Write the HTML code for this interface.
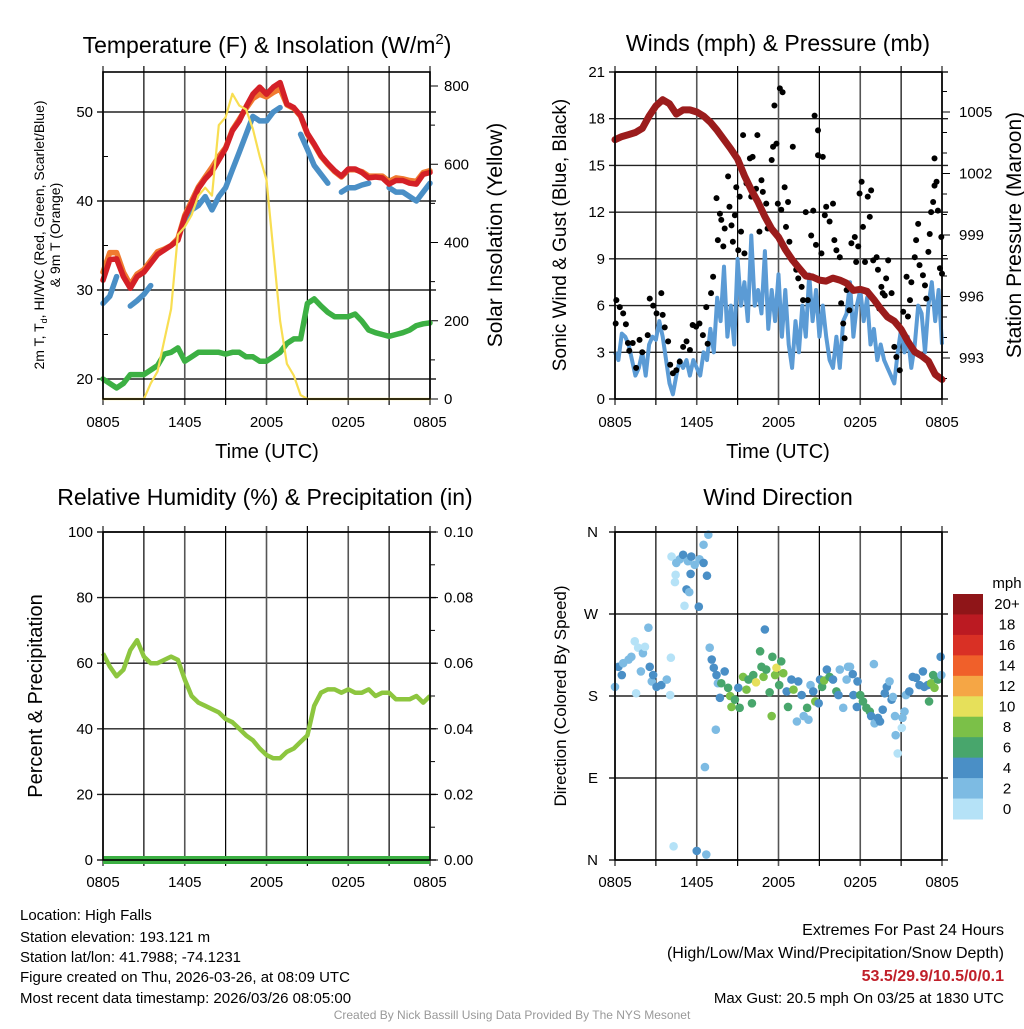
<!DOCTYPE html>
<html><head><meta charset="utf-8">
<style>
html,body{margin:0;padding:0;background:#fff;}
body{width:1024px;height:1024px;overflow:hidden;font-family:"Liberation Sans",Arial,sans-serif;}
svg text{font-family:"Liberation Sans",Arial,sans-serif;}
</style></head>
<body>
<svg id="c" width="1024" height="1024" viewBox="0 0 1024 1024" xmlns="http://www.w3.org/2000/svg">
<g id="texts">
<text x="267" y="53" font-size="23" text-anchor="middle">Temperature (F) &amp; Insolation (W/m<tspan dy="-9" font-size="15">2</tspan><tspan dy="9">)</tspan></text>
<text x="778" y="51" font-size="23" text-anchor="middle">Winds (mph) &amp; Pressure (mb)</text>
<text x="265" y="505" font-size="23" text-anchor="middle">Relative Humidity (%) &amp; Precipitation (in)</text>
<text x="778" y="505" font-size="23" text-anchor="middle">Wind Direction</text>
<text x="267" y="458" font-size="20" text-anchor="middle">Time (UTC)</text>
<text x="778" y="458" font-size="20" text-anchor="middle">Time (UTC)</text>
<g transform="translate(44,235) rotate(-90)">
<text x="0" y="0" font-size="14" text-anchor="middle">2m T, T<tspan dy="3" font-size="9">d</tspan><tspan dy="-3">, HI/WC (Red, Green, Scarlet/Blue)</tspan></text>
<text x="0" y="16" font-size="14" text-anchor="middle">&amp; 9m T (Orange)</text>
</g>
<text transform="translate(502,235) rotate(-90)" font-size="21" text-anchor="middle">Solar Insolation (Yellow)</text>
<text transform="translate(566,235) rotate(-90)" font-size="19" text-anchor="middle">Sonic Wind &amp; Gust (Blue, Black)</text>
<text transform="translate(1021,235) rotate(-90)" font-size="21" text-anchor="middle">Station Pressure (Maroon)</text>
<text transform="translate(42,696) rotate(-90)" font-size="20" text-anchor="middle">Percent &amp; Precipitation</text>
<text transform="translate(566,696) rotate(-90)" font-size="17" text-anchor="middle">Direction (Colored By Speed)</text>
<g font-size="15">
<text x="20" y="920">Location: High Falls</text>
<text x="20" y="942">Station elevation: 193.121 m</text>
<text x="20" y="962">Station lat/lon: 41.7988; -74.1231</text>
<text x="20" y="982">Figure created on Thu, 2026-03-26, at 08:09 UTC</text>
<text x="20" y="1003">Most recent data timestamp: 2026/03/26 08:05:00</text>
</g>
<g font-size="16" text-anchor="end">
<text x="1004" y="935">Extremes For Past 24 Hours</text>
<text x="1004" y="958">(High/Low/Max Wind/Precipitation/Snow Depth)</text>
<text x="1004" y="981" fill="#c0202a" font-weight="bold">53.5/29.9/10.5/0/0.1</text>
<text x="1004" y="1003" font-size="15">Max Gust: 20.5 mph On 03/25 at 1830 UTC</text>
</g>
<text x="512" y="1019" font-size="12" fill="#999" text-anchor="middle">Created By Nick Bassill Using Data Provided By The NYS Mesonet</text>
</g>
</svg>
<script>
// ---------- data ----------
const halfHours = [0,0.5,1,1.5,2,2.5,3,3.5,4,4.5,5,5.5,6,6.5,7,7.5,8,8.5,9,9.5,10,10.5,11,11.5,12,12.5,13,13.5,14,14.5,15,15.5,16,16.5,17,17.5,18,18.5,19,19.5,20,20.5,21,21.5,22,22.5,23,23.5,24];
const xTickLabels = ["0805","1405","2005","0205","0805"];
const tempRed = [31.1,33.4,33.5,31.5,30.2,31.5,32,33,34,34.5,35,35.6,38.2,39.7,41.4,42.5,43.3,44.6,45.9,47.9,49,50.6,52,52.8,52,52.8,53.3,50.9,50.5,49.6,47.6,46.4,45.1,44.2,43.4,42.8,43.6,43.6,43.2,42.6,42.7,42.6,41.9,42.3,42.3,42,41.9,43,43.2];
const tempOrange = [32,34.2,34.2,32,30.6,31.8,32.3,33.3,34.3,34.6,35,35.8,38.4,40,41.6,42.7,43.8,45,46,48,49.2,50.4,51.5,52,51.7,52.2,52.6,50.8,50.4,49.5,47.5,46.3,45,44.1,43.3,42.7,43.5,43.5,43.3,42.8,42.8,42.8,42.2,42.6,42.5,42.3,42.2,43.2,43.4];
const tempBlue = [28.5,29.3,31.5,null,28.2,28.8,29.5,30.5,null,null,null,null,37.6,39,39.5,40.5,39,40.5,41.5,43.5,45.5,47.5,49.5,49,49,50,50.5,null,null,47.5,45.8,44,43,42,null,41,41.5,41.5,41.8,42,null,null,41.5,41,41,40.5,40,41,42];
const tempGreen = [20,19.5,19,19.5,20.5,20.5,20.5,21,21.5,22.8,23,23.5,22,22.5,23,23,23,23,22.8,23,23,22.5,22.5,22,22,22.5,23,24,24.5,24.5,28.5,29,28.2,27.5,27,27,27,27.3,26.5,25.5,25.2,25,24.8,25,25.2,25.5,26,26.2,26.3];
const solar = [0,0,0,0,0,0,0,40,70,150,230,420,440,470,520,540,520,700,720,780,750,740,690,620,560,380,200,90,60,10,0,0,0,0,0,0,0,0,0,0,0,0,0,0,0,0,0,0,0];
const windSpeed = [3,2.5,4.2,4,3.5,2.5,1.5,2,3,1.5,3.5,4,3.8,5,4,2.5,1,0.3,1.5,2.5,2,2.5,1.5,2.5,2,1.5,3,2.5,4.5,3,6.5,5,8.5,4,6,3.5,9,6,7.5,5,10.5,6,7,5.5,9.5,4.5,7,5,8,4,7,3.5,2,5,3,6,4,8,5,7,4,6,4,2.5,2,4,2,5,5.5,7.5,4,6,7,5,6.5,3.5,4.5,2.5,3.5,2.5,2,1.5,1,3,4.5,3,4,2,3.5,6,5.5,3,6,7.5,5,7,3.5];
const pressure = [1003.65,1003.8,1003.9,1004,1004.2,1004.8,1005.3,1005.6,1005.4,1004.9,1005.1,1005.1,1005,1004.8,1004.5,1004.1,1003.65,1003.2,1002.7,1001.9,1001.2,1000.6,999.9,999.3,998.9,998.3,997.8,997.4,997,996.95,996.8,996.75,996.9,996.8,996.65,996.3,996.35,996.25,995.85,995.4,995,994.8,994.4,993.8,993.3,993.1,992.85,992.2,991.95];
const gustHour = [0.05,0.1,0.35,0.6,0.8,0.95,1.05,1.3,1.55,1.8,2,2.4,2.55,2.8,3.05,3.4,3.5,3.65,3.9,4.05,4.25,4.5,4.75,5,5.25,5.5,5.7,5.95,6.2,6.45,6.7,6.8,7.05,7.2,7.45,7.55,7.7,7.8,7.95,8.05,8.3,8.4,8.55,8.65,8.8,8.9,9.05,9.15,9.25,9.4,9.5,9.65,9.9,10,10.1,10.35,10.45,10.6,10.75,10.85,11.1,11.2,11.5,11.6,11.7,11.85,11.95,12.1,12.2,12.3,12.45,12.55,12.7,12.8,13.05,13.2,13.3,13.45,13.7,13.8,14,14.15,14.4,14.55,14.65,14.75,14.9,14.9,15.15,15.25,15.4,15.5,15.75,16,16.1,16.25,16.5,16.6,16.75,16.85,17,17.2,17.35,17.6,17.7,17.85,17.95,18.1,18.2,18.35,18.55,18.7,18.8,18.95,19.2,19.3,19.4,19.55,19.65,19.8,19.9,20.05,20.3,20.5,20.65,20.9,21.15,21.4,21.5,21.65,21.75,22,22.1,22.25,22.35,22.6,22.75,22.85,23,23.1,23.2,23.35,23.45,23.45,23.6,23.7,23.85,23.95,24];
const gustVal = [4.85,6.35,5.9,5.5,4.8,3.6,3.1,3.6,2,3.8,3,4.1,6.45,6,5.5,6.8,5.4,4.6,3.7,2.2,1.65,1.85,2.4,3.35,3.7,3.15,4.75,4.65,4.85,4.1,5.9,3.55,6.8,7.85,12.9,10.2,11.9,11.5,9.8,10.95,14.3,12.35,11.15,10.1,11.8,13.6,9.55,13,10.75,16.95,9.35,13.85,15.45,13,15.55,13.5,16.95,10.75,14.05,13.3,12.55,10.95,15.35,16.2,18.85,16.4,12.55,19.95,12.15,19.7,13.6,11.05,12.65,10.1,16.2,8.7,8.3,7.75,7.2,6.35,12,6.35,10.5,12.1,18.2,9.9,17.25,15.65,9.35,15.55,11.8,12.35,11.4,12.55,10.2,9.55,9.1,6.15,4.85,3.9,7,5.7,10,10.4,8.8,9.8,13.2,13.95,11.05,8.8,13,11.7,13.4,8.9,9.1,8.3,5.8,7.2,6.8,6.65,7.75,8.9,6.8,3.35,2.7,1.85,5.6,7.85,5.3,6.35,7.5,9.1,10.2,11.25,8.6,7.95,7.3,6.45,9.45,10.6,12,12.65,13.7,15.45,13.95,12.1,8.4,10.4,8.05];
const rh = [63,59,56,58,64,67,62,60,60,61,62,61,55,50,48,47,46,45,43,42,40,38,36.5,34,32,31,31,33,34,36,38,47,51,52,52,51,52,51,51,52,50,51,51,49,49,49,50,48,50];
const precip = [0,0,0,0,0,0,0,0,0,0,0,0,0,0,0,0,0,0,0,0,0,0,0,0,0,0,0,0,0,0,0,0,0,0,0,0,0,0,0,0,0,0,0,0,0,0,0,0,0];
const dirHour = [0,0.25,0.5,0.6,1,1.2,1.45,1.55,1.7,1.9,2.05,2.2,2.45,2.55,2.7,2.8,3.05,3.4,3.8,4.05,4.1,4.15,4.4,4.45,4.5,4.75,5,5.1,5.25,5.35,5.45,5.55,5.6,5.85,6.15,6.2,6.5,6.5,6.75,6.85,4.3,6,6.7,6.6,7.4,6.95,7.1,7.25,7.45,7.55,7.7,7.8,8.05,8.3,8.45,8.55,8.8,9.05,9.15,9.4,9.65,9.8,10.05,10.15,10.35,10.65,10.75,10.9,11,11.1,11.35,11.5,11.55,11.75,11.85,12.05,12.2,12.35,12.6,12.7,12.95,13.1,13.35,13.45,13.7,13.85,14.1,14.2,14.35,14.55,14.7,14.95,15.05,15.2,15.35,15.55,15.75,16,16.25,16.4,16.5,16.75,17,17.1,17.25,17.45,17.5,17.75,17.8,18,18.2,18.45,18.7,18.8,19,19.05,19.3,19.45,19.65,19.8,19.95,20.15,20.3,20.4,20.55,20.6,20.75,21.05,21.1,21.25,21.35,21.6,21.85,22.1,22.35,22.6,22.7,22.95,23.05,23.2,23.35,23.45,23.7,23.9,23.95];
const dirDeg = [190,212,203,216,220,223,240,183,233,207,227,234,255,212,196,203,190,192,198,181,222,333,305,313,326,330,335,279,297,328,294,314,333,324,278,330,326,346,312,357,15,10,6,102,143,233,220,211,203,194,178,194,207,189,180,168,176,189,167,201,187,198,172,203,195,229,212,201,253,209,184,158,223,203,211,192,218,205,185,168,198,187,152,196,181,158,167,154,192,185,174,172,198,190,197,209,201,198,185,181,209,167,198,212,212,204,181,168,196,181,174,167,163,158,215,150,156,152,165,183,190,196,176,179,158,137,117,145,156,163,181,185,201,200,192,207,190,192,174,194,203,189,198,223,203];
const dirSpeed = [3,5,5,3,3,3,1,1,1,3,3,1,3,5,3,5,5,5,3,1,1,1,1,1,3,3,5,1,5,3,3,5,5,3,5,3,5,3,5,3,1,5,3,3,3,3,5,5,5,3,5,7,5,7,9,9,7,5,7,9,9,7,7,7,11,7,7,9,5,7,7,9,7,9,11,7,7,9,5,7,5,9,3,5,5,3,7,3,3,5,9,5,5,7,9,5,7,5,7,5,3,3,3,3,3,5,5,5,5,7,7,7,7,5,3,3,5,5,5,5,5,3,5,3,3,3,1,1,3,3,3,5,5,5,5,5,5,5,7,9,7,9,7,5,3];
const cbLabels = ["20+","18","16","14","12","10","8","6","4","2","0"];
const cbColors = ["#8f1518","#bb1a22","#d93025","#f0602a","#f5a645","#e6e05a","#7bc048","#48a66c","#4a8fc6","#7dbbe3","#b5e2f7"];

// ---------- helpers ----------
const NS="http://www.w3.org/2000/svg";
const svg=document.getElementById('c');
function mk(tag,attrs,parent){const e=document.createElementNS(NS,tag);for(const k in attrs)e.setAttribute(k,attrs[k]);(parent||svg).appendChild(e);return e;}
function lin(d0,d1,r0,r1){return v=>r0+(v-d0)*(r1-r0)/(d1-d0);}
function pathFrom(xs,ys,fx,fy){let d='',pen=false;for(let i=0;i<xs.length;i++){if(ys[i]===null||ys[i]===undefined){pen=false;continue;}d+=(pen?'L':'M')+fx(xs[i]).toFixed(1)+' '+fy(ys[i]).toFixed(1);pen=true;}return d;}
function frame(x0,x1,y0,y1,name){
  const g=mk('g',{});
  
  
  return g;
}
function vgrid(g,fx,y0,y1,labels,ylab){
  for(let i=0;i<=8;i++){const h=i*3;const x=fx(h);
    const ln=mk('line',{x1:x,x2:x,y1:y0-6,y2:y1+6,stroke:(i%2?'#000':'#555'),'stroke-width':(i%2?1.2:1.6)},g);
    
    
  }
  labels.forEach((l,i)=>{const t=mk('text',{x:fx(i*6),y:ylab,'font-size':15,'text-anchor':'middle'},g);t.textContent=l;
    
    });
}
function hline(g,y,x0,x1){const l=mk('line',{x1:x0-6,x2:x1+6,y1:y,y2:y,stroke:'#222','stroke-width':1.4},g);
  
  }
function lbl(g,x,y,s,anchor,name){const t=mk('text',{x:x,y:y+5,'font-size':15,'text-anchor':anchor},g);t.textContent=s;
  
  return t;}
function border(g,x0,x1,y0,y1){const r=mk('rect',{x:x0,y:y0,width:x1-x0,height:y1-y0,fill:'none',stroke:'#000','stroke-width':1.6},g);
  
  }

// ---------- Panel 1: temperature ----------
(function(){
  const X0=103,X1=430,Y0=72,Y1=399;
  const fx=lin(0,24,X0,X1), fy=lin(20,50,379,112), fs=lin(0,800,399,86);
  const g=frame(X0,X1,Y0,Y1,'temperature');
  [20,30,40,50].forEach(v=>{hline(g,fy(v),X0,X1);lbl(g,X0-10,fy(v),String(v),'end','temp-y-tick-label');});
  [25,35,45].forEach(v=>mk('line',{x1:X0,x2:X0+5,y1:fy(v),y2:fy(v),stroke:'#000'},g));
  for(let v=0;v<=800;v+=100){const y=fs(v);mk('line',{x1:X1,x2:X1+(v%200?5:8),y1:y,y2:y,stroke:'#000','stroke-width':1},g);
    if(v%200===0)lbl(g,X1+14,y,String(v),'start','solar-y-tick-label');}
  vgrid(g,fx,Y0,Y1,xTickLabels,427);
  const s=[[tempGreen,'#3cb043','temp-dewpoint-line',5.5],[tempBlue,'#4a8fc6','temp-windchill-line',5.5],[tempOrange,'#f07a30','temp-9m-line',5.5],[tempRed,'#d42027','temp-2m-line',5.5],[solar,'#f8de52','solar-insolation-line',2.2]];
  s.forEach(([arr,col,nm,w])=>{const fyy=arr===solar?fs:fy;
    const p=mk('path',{d:pathFrom(halfHours,arr,fx,fyy),fill:'none',stroke:col,'stroke-width':w,'stroke-linejoin':'round','stroke-linecap':'round'});
    
    });
  border(svg,X0,X1,Y0,Y1);
})();

// ---------- Panel 2: winds ----------
(function(){
  const X0=615,X1=942,Y0=72,Y1=399;
  const fx=lin(0,24,X0,X1), fy=lin(0,21,399,72), fp=lin(993,1005,358,112);
  const g=frame(X0,X1,Y0,Y1,'winds');
  for(let v=0;v<=21;v+=3){hline(g,fy(v),X0,X1);lbl(g,X0-10,fy(v),String(v),'end','wind-y-tick-label');}
  for(let v=992;v<=1007;v++){const y=fp(v);if(y<Y0||y>Y1)continue;mk('line',{x1:X1,x2:X1+((v-993)%3?5:8),y1:y,y2:y,stroke:'#000'},g);
    if((v-993)%3===0)lbl(g,X1+17,y,String(v),'start','pressure-y-tick-label');}
  vgrid(g,fx,Y0,Y1,xTickLabels,427);
  const windHours = windSpeed.map((_,i)=>i*24/(windSpeed.length-1));
  const w=mk('path',{d:pathFrom(windHours,windSpeed,fx,fy),fill:'none',stroke:'#5b9bd5','stroke-width':4,'stroke-linejoin':'round'});
  
  
  const gg=mk('g',{});
  
  
  gustHour.forEach((h,i)=>{const c=mk('circle',{cx:fx(h),cy:fy(gustVal[i]),r:3,fill:'#000'},gg);
    
    });
  const p=mk('path',{d:pathFrom(halfHours,pressure,fx,fp),fill:'none',stroke:'#9b1c1c','stroke-width':7,'stroke-linejoin':'round','stroke-linecap':'round'});
  
  
  border(svg,X0,X1,Y0,Y1);
})();

// ---------- Panel 3: humidity ----------
(function(){
  const X0=103,X1=430,Y0=532,Y1=860;
  const fx=lin(0,24,X0,X1), fy=lin(0,100,860,532), fr=lin(0,0.1,860,532);
  const g=frame(X0,X1,Y0,Y1,'humidity');
  for(let v=0;v<=100;v+=20){hline(g,fy(v),X0,X1);lbl(g,X0-10,fy(v),String(v),'end','rh-y-tick-label');}
  for(let v=0;v<=100;v+=10){const y=fy(v);mk('line',{x1:X1,x2:X1+(v%20?5:8),y1:y,y2:y,stroke:'#000'},g);
    if(v%20===0)lbl(g,X1+14,y,(v/1000).toFixed(2),'start','precip-y-tick-label');}
  vgrid(g,fx,Y0,Y1,xTickLabels,887);
  const r=mk('path',{d:pathFrom(halfHours,rh,fx,fy),fill:'none',stroke:'#8dc63f','stroke-width':4.5,'stroke-linejoin':'round'});
  
  
  const p=mk('path',{d:pathFrom(halfHours,precip,fx,fr),fill:'none',stroke:'#3cb043','stroke-width':8});
  
  
  border(svg,X0,X1,Y0,Y1);
})();

// ---------- Panel 4: wind direction ----------
(function(){
  const X0=615,X1=942,Y0=532,Y1=860;
  const fx=lin(0,24,X0,X1), fy=lin(0,360,860,532);
  const g=frame(X0,X1,Y0,Y1,'direction');
  const dl=['N','E','S','W','N'];
  for(let i=0;i<5;i++){const v=i*90;hline(g,fy(v),X0,X1);lbl(g,X0-17,fy(v),dl[i],'end','direction-y-tick-label');}
  vgrid(g,fx,Y0,Y1,xTickLabels,887);
  const pg=mk('g',{});
  
  
  dirHour.forEach((h,i)=>{const idx=Math.min(10,Math.floor(dirSpeed[i]/2));
    const c=mk('circle',{cx:fx(h),cy:fy(dirDeg[i]),r:4.3,fill:cbColors[10-idx]},pg);
    
    });
  border(svg,X0,X1,Y0,Y1);
  // colorbar
  const cb=mk('g',{});
  
  
  const t=mk('text',{x:1007,y:588,'font-size':15,'text-anchor':'middle'},cb);t.textContent='mph';
  
  
  const bh=(819-594)/cbLabels.length;
  cbLabels.forEach((l,i)=>{const y=594+i*bh;
    const r=mk('rect',{x:953,y:y,width:30,height:bh+0.5,fill:cbColors[i]},cb);
    
    
    const tt=mk('text',{x:1007,y:y+bh/2+5,'font-size':15,'text-anchor':'middle'},cb);tt.textContent=l;
    
    });
})();
</script>
</body></html>
